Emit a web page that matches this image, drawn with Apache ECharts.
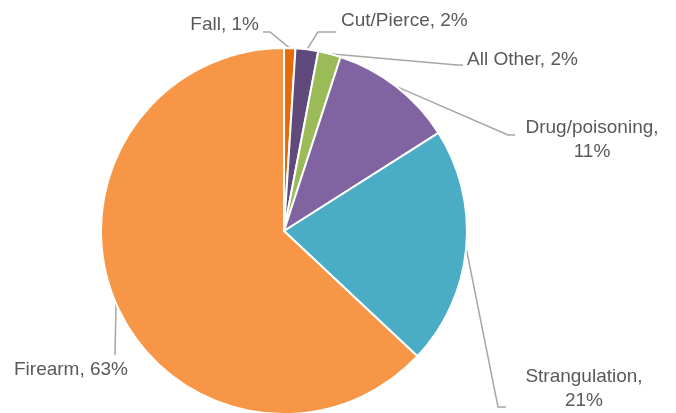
<!DOCTYPE html>
<html>
<head>
<meta charset="utf-8">
<script src="https://cdn.jsdelivr.net/npm/echarts@6/dist/echarts.min.js"></script>
<style>html,body{margin:0;padding:0;background:#fff}#c{width:676px;height:413px}</style>
</head>
<body>
<div id="c"></div>
<script>
// Data
var categories = ['Fall', 'Cut/Pierce', 'All Other', 'Drug/poisoning', 'Strangulation', 'Firearm'];
var percents = [1, 2, 2, 11, 21, 63];
var colors = ['#E46C0A', '#604A7B', '#9BBB59', '#8064A2', '#4BACC6', '#F79646'];

// label placement (layout only)
var labelPlace = [
  {x: 259, y: 25, align: 'right', pts: [[270, 32], [263, 32]]},
  {x: 341, y: 21, align: 'left', pts: [[318, 32], [336, 32]]},
  {x: 467, y: 60, align: 'left', pts: [[457, 65], [463, 65]]},
  {x: 592, y: 140, align: 'center', pts: [[508, 135], [515, 135]]},
  {x: 584, y: 389, align: 'center', pts: [[498, 407], [506, 407]]},
  {x: 71, y: 370, align: 'center', pts: [[115, 355]]}
];
var breakLine = [false, false, false, true, true, false];

var chart = echarts.init(document.getElementById('c'), null, {renderer: 'canvas'});
chart.setOption({
  animation: false,
  backgroundColor: '#ffffff',
  series: [{
    type: 'pie',
    center: [284, 231],
    radius: 183,
    startAngle: 90,
    clockwise: true,
    avoidLabelOverlap: false,
    data: categories.map(function (n, i) {
      return {name: n, value: percents[i], itemStyle: {color: colors[i]}};
    }),
    itemStyle: {borderColor: '#ffffff', borderWidth: 2},
    label: {
      show: true,
      position: 'outside',
      color: '#595959',
      fontFamily: 'Liberation Sans, Arial, sans-serif',
      fontSize: 19,
      lineHeight: 24,
      formatter: function (p) {
        return p.name + ',' + (breakLine[p.dataIndex] ? '\n' : ' ') + p.value + '%';
      }
    },
    labelLine: {show: true, lineStyle: {color: '#A6A6A6', width: 1.5}, length: 10, length2: 10},
    emphasis: {disabled: true},
    labelLayout: function (params) {
      var lp = labelPlace[params.dataIndex];
      var start = params.labelLinePoints ? params.labelLinePoints[0] : null;
      var pts = start ? [start].concat(lp.pts) : lp.pts;
      return {
        x: lp.x,
        y: lp.y,
        align: lp.align,
        verticalAlign: 'middle',
        hideOverlap: false,
        labelLinePoints: pts
      };
    }
  }]
});
</script>
</body>
</html>
